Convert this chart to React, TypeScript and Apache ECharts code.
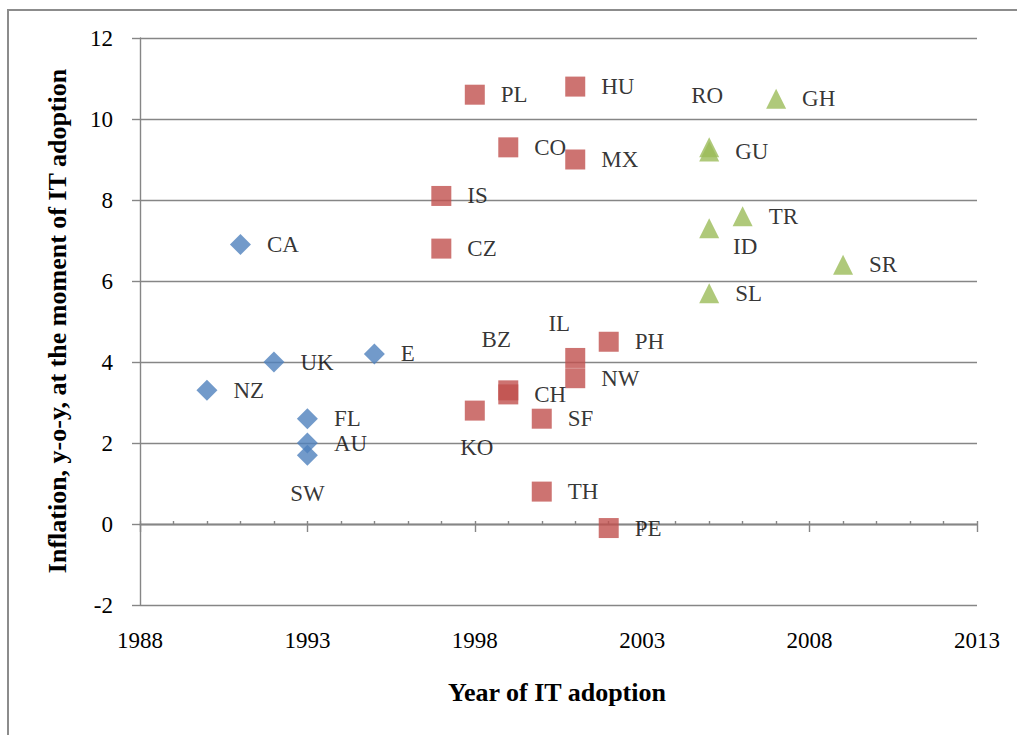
import React, { useEffect, useRef } from "react";
import * as echarts from "echarts";

// ---- data ----
const blueNames = ["CA", "UK", "NZ", "FL", "AU", "SW", "E"];
const blueYears = [1991, 1992, 1990, 1993, 1993, 1993, 1995];
const blueInfl = [6.9, 4.0, 3.3, 2.6, 2.0, 1.7, 4.2];

const redNames = ["PL", "HU", "CO", "MX", "IS", "CZ", "PH", "IL", "NW", "BZ", "CH", "KO", "SF", "TH", "PE"];
const redYears = [1998, 2001, 1999, 2001, 1997, 1997, 2002, 2001, 2001, 1999, 1999, 1998, 2000, 2000, 2002];
const redInfl = [10.6, 10.8, 9.3, 9.0, 8.1, 6.8, 4.5, 4.1, 3.6, 3.3, 3.2, 2.8, 2.6, 0.8, -0.1];

const greenNames = ["RO", "GH", "GU", "TR", "ID", "SR", "SL"];
const greenYears = [2005, 2007, 2005, 2006, 2005, 2009, 2005];
const greenInfl = [9.3, 10.5, 9.2, 7.6, 7.3, 6.4, 5.7];

const xMin = 1988;
const xMax = 2013;
const yMin = -2;
const yMax = 12;

const xTitle = "Year of IT adoption";
const yTitle = "Inflation, y-o-y, at the moment of IT adoption";

// label placement (manually moved labels in the original)
const labelNudge: Record<string, [number, number]> = {
  SW: [0, 38],
  KO: [2, 37],
  IL: [-16, -34],
  BZ: [-12, -51],
  RO: [-2, -52],
  ID: [36, 18],
};

const FONT = "'Liberation Serif', 'Times New Roman', serif";
const GRID = "#868686";

function buildData(names: string[], xs: number[], ys: number[]) {
  return names.map((n, i) => {
    const item: any = { name: n, value: [xs[i], ys[i]] };
    const nudge = labelNudge[n];
    if (nudge) {
      item.label = { position: "inside", offset: nudge, align: "center", verticalAlign: "middle" };
    }
    return item;
  });
}

export default function App() {
  const ref = useRef<HTMLDivElement>(null);
  useEffect(() => {
    if (!ref.current) return;
    const chart = echarts.init(ref.current, null, { renderer: "svg" });
    const label = {
      show: true,
      formatter: "{b}",
      position: "right",
      distance: 16,
      color: "#000",
      fontSize: 23,
      fontFamily: FONT,
    };
    const lineStyle = { color: GRID, width: 1.4 };
    const option: any = {
      animation: false,
      textStyle: { fontFamily: FONT },
      grid: { left: 140, right: 40, top: 38, bottom: 130, containLabel: false },
      xAxis: [
        {
          type: "value",
          min: xMin,
          max: xMax,
          interval: 5,
          position: "bottom",
          axisLine: { show: false, onZero: false },
          axisTick: { show: false },
          splitLine: { show: false },
          axisLabel: {
            color: "#000",
            fontSize: 23,
            fontFamily: FONT,
            margin: 24,
            formatter: (v: number) => String(v),
          },
        },
        {
          type: "value",
          min: xMin,
          max: xMax,
          interval: 5,
          position: "top",
          axisLine: { show: true, onZero: true, onZeroAxisIndex: 0, lineStyle },
          axisTick: { show: true, length: 3, lineStyle },
          minorTick: { show: true, splitNumber: 5, length: 3, lineStyle },
          axisLabel: { show: false },
          splitLine: { show: false },
        },
        {
          type: "value",
          min: xMin,
          max: xMax,
          interval: 5,
          position: "top",
          axisLine: { show: true, onZero: true, onZeroAxisIndex: 0, lineStyle },
          axisTick: { show: true, inside: true, length: 8, lineStyle },
          minorTick: { show: false },
          axisLabel: { show: false },
          splitLine: { show: false },
        },
      ],
      yAxis: {
        type: "value",
        min: yMin,
        max: yMax,
        interval: 2,
        axisLine: { show: true, onZero: false, lineStyle },
        axisTick: { show: true, length: 8, lineStyle },
        splitLine: { show: true, lineStyle },
        axisLabel: { color: "#000", fontSize: 23, fontFamily: FONT, margin: 27 },
      },
      series: [
        {
          type: "scatter",
          name: "blue",
          symbol: "diamond",
          symbolSize: 21,
          itemStyle: { color: "#4F81BD" },
          label,
          data: buildData(blueNames, blueYears, blueInfl),
        },
        {
          type: "scatter",
          name: "red",
          symbol: "rect",
          symbolSize: 20,
          itemStyle: { color: "#C0504D" },
          label,
          data: buildData(redNames, redYears, redInfl),
        },
        {
          type: "scatter",
          name: "green",
          symbol: "triangle",
          symbolSize: 20,
          itemStyle: { color: "#9BBB59" },
          label,
          data: buildData(greenNames, greenYears, greenInfl),
        },
      ],
      graphic: [
        {
          type: "rect",
          silent: true,
          shape: { x: 8, y: 10, width: 1300, height: 1000 },
          style: { fill: "none", stroke: "#8c8c8c", lineWidth: 2 },
        },
        {
          type: "text",
          x: 57,
          y: 321,
          rotation: Math.PI / 2,
          style: {
            text: yTitle,
            fontSize: 26,
            fontWeight: "bold",
            fontFamily: FONT,
            fill: "#000",
            align: "center",
            verticalAlign: "middle",
          },
        },
        {
          type: "text",
          x: 557,
          y: 692,
          style: {
            text: xTitle,
            fontSize: 26,
            fontWeight: "bold",
            fontFamily: FONT,
            fill: "#000",
            align: "center",
            verticalAlign: "middle",
          },
        },
      ],
    };
    chart.setOption(option);
    return () => chart.dispose();
  }, []);
  return (
    <div
      ref={ref}
      style={{ position: "fixed", left: 0, top: 0, width: 1017, height: 735, background: "#fff" }}
    />
  );
}
